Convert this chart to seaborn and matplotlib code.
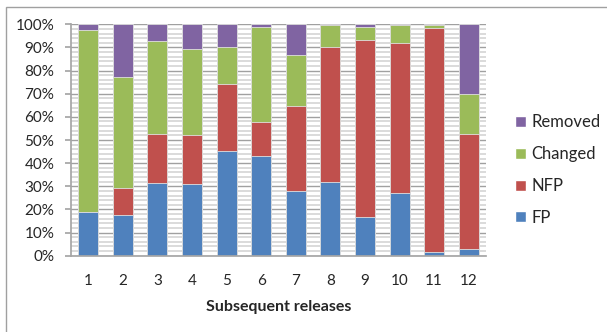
import numpy as np
import pandas as pd
import matplotlib
matplotlib.use("Agg")
import matplotlib.pyplot as plt
from matplotlib.patches import Patch, Rectangle
import seaborn as sns

# share of each kind of change per release (%)
releases = ["1", "2", "3", "4", "5", "6", "7", "8", "9", "10", "11", "12"]
fp = [19.0, 17.7, 31.4, 31.1, 45.4, 43.0, 28.0, 32.0, 16.9, 27.2, 1.5, 3.0]
nfp = [0.0, 11.6, 21.2, 21.2, 28.9, 14.9, 36.8, 58.1, 76.5, 64.9, 97.0, 49.7]
changed = [78.5, 47.8, 40.0, 36.9, 16.0, 40.8, 21.8, 9.5, 5.6, 7.6, 1.3, 17.2]
removed = [2.5, 22.9, 7.4, 10.8, 9.7, 1.3, 13.4, 0.4, 1.0, 0.3, 0.2, 30.1]

series = ["FP", "NFP", "Changed", "Removed"]
colors = {"FP": "#4F81BD", "NFP": "#C0504D", "Changed": "#9BBB59", "Removed": "#8064A2"}

df = pd.DataFrame({"release": releases, "FP": fp, "NFP": nfp,
                   "Changed": changed, "Removed": removed})
cum = df[series].cumsum(axis=1) / 100
cum["release"] = df["release"]

sns.set_theme(style="white")
plt.rcParams["font.family"] = ["Lato", "DejaVu Sans"]

fig = plt.figure(figsize=(6.07, 3.32), dpi=100)
ax = fig.add_axes([71 / 607, 1 - 255.7 / 332, 415 / 607, 231.4 / 332])

# stacked bars: draw cumulative totals from the top series down
for s in reversed(series):
    sns.barplot(data=cum, x="release", y=s, color=colors[s], width=0.58,
                edgecolor="#e0e0e0", linewidth=0.6, saturation=1, ax=ax)

ax.set_ylim(0, 1)
ax.set_yticks(np.arange(0, 1.01, 0.1))
ax.set_yticks(np.arange(0, 1.01, 0.02), minor=True)
ax.set_yticklabels([f"{int(round(v * 100))}%" for v in np.arange(0, 1.01, 0.1)])
ax.set_axisbelow(True)
ax.grid(which="minor", axis="y", color="#d4d4d4", lw=1.2)
ax.grid(which="major", axis="y", color="#a0a0a0", lw=1.0)
ax.tick_params(axis="y", which="major", length=4, color="#a6a6a6", pad=8,
               labelsize=11, left=True)
ax.tick_params(axis="y", which="minor", length=0)
ax.tick_params(axis="x", length=0, pad=13, labelsize=11)
for sp in ["top", "right"]:
    ax.spines[sp].set_visible(False)
for sp in ["left", "bottom"]:
    ax.spines[sp].set_color("#a6a6a6")
ax.set_ylabel("")
ax.set_xlabel("Subsequent releases", fontsize=11.5, fontweight="bold", labelpad=9)

handles = [Patch(facecolor=colors[s], label=s) for s in reversed(series)]
fig.legend(handles=handles, loc="center left", bbox_to_anchor=(500 / 607, 1 - 170 / 332),
           frameon=False, fontsize=12, handlelength=0.65, handleheight=0.65,
           handletextpad=0.35, labelspacing=0.95)

fig.patches.append(Rectangle((6 / 607, -0.1), 1.1, (332 - 7) / 332 + 0.1,
                             transform=fig.transFigure, fill=False,
                             edgecolor="#a0a0a0", lw=1))

fig.savefig("out.png", dpi=100)
